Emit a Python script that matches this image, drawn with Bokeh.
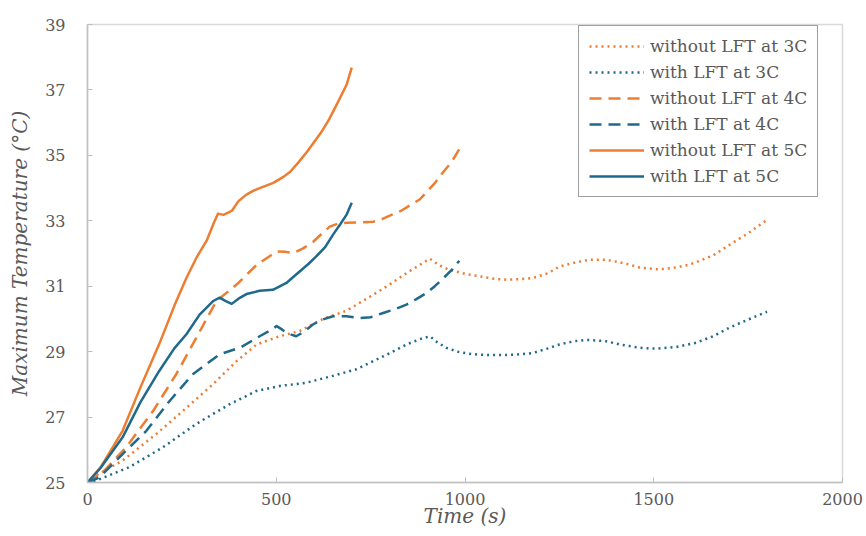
from bokeh.plotting import figure
from bokeh.models import Range1d, FixedTicker, Legend, LegendItem
from bokeh.embed import file_html
from bokeh.resources import INLINE

# Temperature traces (time in s, maximum cell temperature in degC)
t_wo_3c = [0, 14, 93, 182, 253, 332, 395, 448, 509, 562, 624, 686, 715, 757, 800, 845, 880, 907,
           930, 958, 1000, 1040, 1080, 1110, 1150, 1180, 1220, 1250, 1290, 1330, 1373, 1410, 1436,
           1462, 1506, 1530, 1559, 1590, 1612, 1657, 1700, 1750, 1800]
T_wo_3c = [25, 25.16, 25.67, 26.48, 27.19, 28.0, 28.71, 29.22, 29.47, 29.63, 30.0, 30.25, 30.45,
           30.74, 31.05, 31.40, 31.65, 31.84, 31.65, 31.50, 31.38, 31.30, 31.22, 31.20, 31.22, 31.25,
           31.4, 31.6, 31.72, 31.81, 31.81, 31.73, 31.66, 31.57, 31.52, 31.53, 31.57, 31.65, 31.73,
           31.94, 32.26, 32.62, 33.03]

t_w_3c = [0, 23, 111, 199, 288, 376, 448, 509, 580, 650, 712, 757, 800, 845, 880, 907, 925, 950,
          980, 1020, 1060, 1110, 1150, 1180, 1220, 1250, 1290, 1322, 1350, 1373, 1410, 1436, 1462,
          1506, 1559, 1612, 1657, 1700, 1750, 1800]
T_w_3c = [25, 25.06, 25.47, 26.07, 26.79, 27.39, 27.8, 27.95, 28.05, 28.26, 28.46, 28.71, 28.95,
          29.22, 29.38, 29.47, 29.3, 29.12, 29.0, 28.92, 28.9, 28.9, 28.92, 28.96, 29.1, 29.22,
          29.32, 29.36, 29.34, 29.32, 29.22, 29.17, 29.12, 29.09, 29.14, 29.27, 29.47, 29.73,
          29.98, 30.22]

t_wo_4c = [0, 40, 102, 174, 235, 288, 341, 395, 448, 501, 525, 545, 570, 598, 620, 642, 665, 686,
           720, 757, 780, 801, 830, 855, 880, 899, 920, 943, 965, 985]
T_wo_4c = [25, 25.31, 26.07, 27.19, 28.31, 29.42, 30.54, 31.05, 31.65, 32.06, 32.05, 32.01, 32.15,
           32.36, 32.6, 32.82, 32.92, 32.94, 32.95, 32.97, 33.05, 33.16, 33.3, 33.48, 33.65, 33.89,
           34.15, 34.5, 34.8, 35.2]

t_w_4c = [0, 32, 93, 156, 218, 279, 350, 404, 456, 480, 501, 515, 527, 553, 575, 597, 620, 650,
          686, 722, 750, 783, 815, 845, 870, 898, 920, 943, 965, 985]
T_w_4c = [25, 25.16, 25.87, 26.58, 27.5, 28.31, 28.92, 29.12, 29.47, 29.62, 29.78, 29.68, 29.57,
          29.47, 29.62, 29.83, 29.97, 30.08, 30.08, 30.03, 30.05, 30.18, 30.3, 30.44, 30.6, 30.79,
          31.0, 31.25, 31.5, 31.78]

t_wo_5c = [0, 35, 93, 140, 190, 230, 262, 290, 316, 335, 346, 360, 382, 400, 421, 440, 456, 491,
           520, 537, 560, 581, 600, 620, 640, 660, 686, 700]
T_wo_5c = [25, 25.47, 26.58, 27.9, 29.23, 30.4, 31.25, 31.9, 32.4, 32.95, 33.22, 33.18, 33.3, 33.6,
           33.8, 33.92, 34.0, 34.15, 34.35, 34.5, 34.8, 35.1, 35.4, 35.72, 36.1, 36.55, 37.15, 37.68]

t_w_5c = [0, 35, 93, 140, 190, 230, 262, 297, 332, 350, 365, 382, 400, 421, 456, 491, 527, 545,
          562, 585, 606, 630, 650, 670, 686, 700]
T_w_5c = [25, 25.45, 26.38, 27.45, 28.41, 29.1, 29.53, 30.13, 30.54, 30.65, 30.55, 30.46, 30.62,
          30.76, 30.86, 30.89, 31.1, 31.28, 31.45, 31.68, 31.91, 32.2, 32.57, 32.9, 33.18, 33.55]

x_ticks = [0, 500, 1000, 1500, 2000]
y_ticks = [25, 27, 29, 31, 33, 35, 37, 39]

ORANGE = "#ED7D31"
BLUE = "#1F6A8C"
GREY_TEXT = "#595959"
SERIF = "DejaVu Serif"

p = figure(width=866, height=536, output_backend="svg", toolbar_location=None,
           x_range=Range1d(0, 2000), y_range=Range1d(25, 39),
           min_border_left=87, min_border_right=24, min_border_top=24, min_border_bottom=54)

p.background_fill_color = "white"
p.border_fill_color = "white"
p.outline_line_color = "#D9D9D9"
p.outline_line_width = 1.5
p.xgrid.visible = False
p.ygrid.visible = False

for ax, ticks in ((p.xaxis[0], x_ticks), (p.yaxis[0], y_ticks)):
    ax.ticker = FixedTicker(ticks=ticks)
    ax.axis_line_color = "#BFBFBF"
    ax.axis_line_width = 1.5
    ax.major_tick_line_color = "#BFBFBF"
    ax.major_tick_in = 5
    ax.major_tick_out = 0
    ax.minor_tick_line_color = None
    ax.major_label_text_font = SERIF
    ax.major_label_text_font_size = "16px"
    ax.major_label_text_color = GREY_TEXT
    ax.axis_label_text_font = SERIF
    ax.axis_label_text_font_size = "20px"
    ax.axis_label_text_font_style = "italic"
    ax.axis_label_text_color = GREY_TEXT
p.xaxis.major_label_standoff = 10
p.yaxis.major_label_standoff = 22
p.xaxis.axis_label = "Time (s)"
p.yaxis.axis_label = "Maximum Temperature (°C)"
p.xaxis.axis_label_standoff = -4
p.yaxis.axis_label_standoff = 10

series = [
    ("without LFT at 3C", t_wo_3c, T_wo_3c, ORANGE, "2 4"),
    ("with LFT at 3C", t_w_3c, T_w_3c, BLUE, "2 4"),
    ("without LFT at 4C", t_wo_4c, T_wo_4c, ORANGE, "12 7"),
    ("with LFT at 4C", t_w_4c, T_w_4c, BLUE, "12 7"),
    ("without LFT at 5C", t_wo_5c, T_wo_5c, ORANGE, "solid"),
    ("with LFT at 5C", t_w_5c, T_w_5c, BLUE, "solid"),
]

items = []
for name, xs, ys, color, dash in series:
    r = p.line(xs, ys, line_color=color, line_width=2.5, line_dash=dash, line_join="round")
    items.append(LegendItem(label=name, renderers=[r]))

legend = Legend(items=items, location=(491, 285), orientation="vertical",
                border_line_color="#404040", border_line_width=1.5,
                background_fill_color="white", background_fill_alpha=1.0,
                label_text_font=SERIF, label_text_font_size="17px",
                label_text_color=GREY_TEXT, glyph_width=55, glyph_height=20,
                label_height=20, label_standoff=6, spacing=6, padding=10, margin=0)
p.add_layout(legend)

open("out.html", "w").write(file_html(p, INLINE))
